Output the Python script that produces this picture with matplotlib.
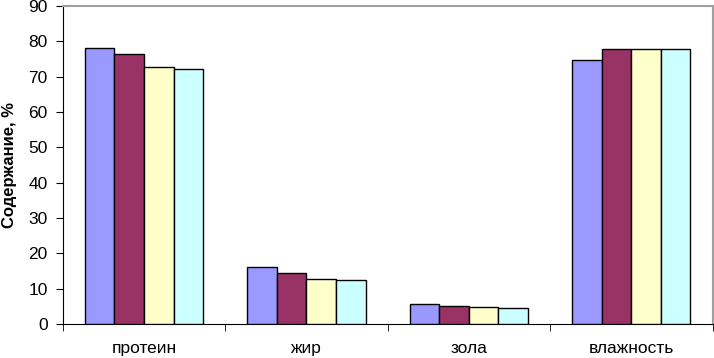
import matplotlib.pyplot as plt
import numpy as np

plt.rcParams["font.family"] = ["Liberation Sans", "DejaVu Sans"]

categories = ["протеин", "жир", "зола", "влажность"]
series_1 = [78.1, 16.1, 5.7, 74.8]
series_2 = [76.4, 14.4, 5.1, 77.8]
series_3 = [72.7, 12.7, 4.8, 77.8]
series_4 = [72.2, 12.4, 4.5, 77.8]
colors = ["#9999FF", "#993366", "#FFFFCC", "#CCFFFF"]

fig = plt.figure(figsize=(7.14, 3.58), dpi=100)
ax = fig.add_axes([0.088, 0.095, 0.910, 0.888])

x = np.arange(len(categories))
width = 0.182
all_series = [series_1, series_2, series_3, series_4]
for i, (vals, col) in enumerate(zip(all_series, colors)):
    ax.bar(x + (i - 1.5) * width, vals, width, color=col,
           edgecolor="black", linewidth=1.0, zorder=3)

ax.set_xlim(-0.5, len(categories) - 0.5)
ax.set_ylim(0, 90)
ax.set_yticks(np.arange(0, 91, 10))
ax.tick_params(axis="y", labelsize=12.5, length=5, pad=6, direction="out")

# category labels at centres, tick marks at boundaries
ax.set_xticks(x)
ax.set_xticklabels(categories, fontsize=12.5)
ax.tick_params(axis="x", which="major", length=0, pad=12)
ax.set_xticks(np.arange(-0.5, len(categories) + 0.5, 1), minor=True)
ax.tick_params(axis="x", which="minor", length=5, direction="out", color="black")

ax.set_ylabel("Содержание, %", fontsize=12, fontweight="bold")
ax.yaxis.set_label_coords(-0.071, 0.5)

for side in ["top", "right"]:
    ax.spines[side].set_color("#A0A0A0")
    ax.spines[side].set_linewidth(1.5)
ax.spines["left"].set_color("black")
ax.spines["bottom"].set_color("black")

fig.savefig("out.png", dpi=100)
